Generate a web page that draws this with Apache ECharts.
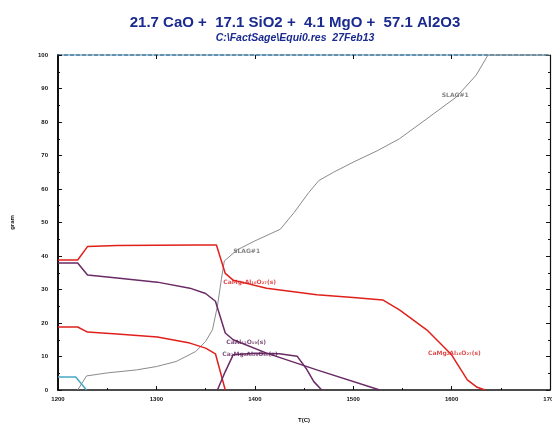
<!DOCTYPE html>
<html>
<head>
<meta charset="utf-8">
<script src="https://cdn.jsdelivr.net/npm/echarts@6/dist/echarts.min.js"></script>
<style>html,body{margin:0;padding:0;background:#fff}#c{width:552px;height:423px}</style>
</head>
<body>
<div id="c"></div>
<script>
// ---- data (T in °C, gram) ----
var slag = [[1220,0],[1229,4.2],[1250,5.1],[1280,6],[1300,7],[1320,8.5],[1340,11.5],[1350,14.5],[1357,18],[1362,25],[1366,33],[1369,38.5],[1382,41.8],[1400,44.5],[1426,48],[1440,53],[1455,59],[1465,62.5],[1480,65],[1500,68],[1525,71.5],[1547,75],[1575,81],[1605,87.5],[1625,94],[1637,100],[1700,100]];
var cm2a8 = [[1200,38.8],[1220,38.8],[1230,42.8],[1260,43.1],[1300,43.2],[1340,43.3],[1361,43.3],[1370,34.8],[1378,32.8],[1412,30.4],[1463,28.4],[1500,27.6],[1530,26.9],[1547,23.9],[1575,17.9],[1600,10.5],[1616,3],[1626,0.8],[1634,0]];
var gehl = [[1200,18.8],[1220,18.8],[1230,17.3],[1260,16.7],[1301,15.8],[1334,14],[1350,12.5],[1360,10.8],[1370,0]];
var ca6 = [[1200,37.9],[1220,37.9],[1230,34.3],[1260,33.4],[1301,32.2],[1334,30.4],[1350,28.8],[1360,26.5],[1370,17],[1378,15],[1412,11],[1463,6],[1527,0]];
var c2m2a14 = [[1362,0],[1370,5.5],[1378,10.5],[1400,11],[1425,10.8],[1443,10.1],[1452,6.5],[1460,2.5],[1468,0]];
var cyan = [[1200,3.9],[1218,3.9],[1229,0]];
var labels = [
  {t:'SLAG#1', p:[1378,41.5], c:'#666'},
  {t:'SLAG#1', p:[1590,88], c:'#666'},
  {t:'CaMg\u2082Al\u2081\u2086O\u2082\u2087(s)', p:[1368,32], c:'#d81c1c'},
  {t:'CaAl\u2081\u2082O\u2081\u2089(s)', p:[1371,14.2], c:'#5a1f55'},
  {t:'Ca\u2082Mg\u2082Al\u2082\u2088O\u2084\u2086(s)', p:[1367,10.6], c:'#5a1f55'},
  {t:'CaMg\u2082Al\u2081\u2086O\u2082\u2087(s)', p:[1576,11], c:'#d81c1c'}
];
var xTicks = [1200,1300,1400,1500,1600,1700];
var yTicks = [0,10,20,30,40,50,60,70,80,90,100];

var chart = echarts.init(document.getElementById('c'));
function line(d, color, w){
  return {type:'line', data:d, showSymbol:false, symbol:'none', lineStyle:{color:color, width:w}, silent:true, z:3, animation:false};
}
var tickFont = {fontSize:6, fontWeight:'bold', color:'#111', fontFamily:'Liberation Sans'};
chart.setOption({
  animation:false,
  title:{
    text:'21.7 CaO +  17.1 SiO2 +  4.1 MgO +  57.1 Al2O3',
    subtext:'C:\\FactSage\\Equi0.res  27Feb13',
    left:290, top:10, textAlign:'center', itemGap:3,
    textStyle:{fontSize:15, fontWeight:'bold', color:'#1a2a8e', fontFamily:'Liberation Sans'},
    subtextStyle:{fontSize:10.5, fontWeight:'bold', fontStyle:'italic', color:'#1a2a8e', fontFamily:'Liberation Sans'}
  },
  grid:{left:58, right:2, top:55, bottom:33, containLabel:false, outerBoundsMode:'none'},
  xAxis:[
    {type:'value', min:1200, max:1700, interval:100, position:'bottom',
     name:'T(C)', nameLocation:'middle', nameGap:27, nameTextStyle:{fontSize:6, fontWeight:'bold', color:'#111'},
     axisLine:{onZero:false, lineStyle:{color:'#111', width:1.5}},
     axisTick:{inside:true, length:4, lineStyle:{color:'#111'}},
     minorTick:{show:true, splitNumber:2, length:2, lineStyle:{color:'#111'}},
     axisLabel:Object.assign({margin:6, formatter:function(v){return xTicks.indexOf(v)>=0?String(v):'';}}, tickFont),
     splitLine:{show:false}},
    {type:'value', min:1200, max:1700, interval:100, position:'top',
     axisLine:{onZero:false, lineStyle:{color:'#2f6f96', width:1.5, type:[4,2]}},
     axisTick:{inside:true, length:4, lineStyle:{color:'#111'}},
     axisLabel:{show:false}, splitLine:{show:false}}
  ],
  yAxis:[
    {type:'value', min:0, max:100, interval:10, position:'left',
     name:'gram', nameLocation:'middle', nameGap:43, nameRotate:90, nameTextStyle:{fontSize:6, fontWeight:'bold', color:'#111'},
     axisLine:{show:true, onZero:false, lineStyle:{color:'#111', width:2}},
     axisTick:{show:true, inside:true, length:4, lineStyle:{color:'#111'}},
     minorTick:{show:true, splitNumber:2, length:2, lineStyle:{color:'#111'}},
     axisLabel:Object.assign({margin:10, formatter:function(v){return yTicks.indexOf(v)>=0?String(v):'';}}, tickFont),
     splitLine:{show:false}},
    {type:'value', min:0, max:100, interval:10, position:'right',
     axisLine:{show:true, onZero:false, lineStyle:{color:'#111', width:1.2}},
     axisTick:{show:true, inside:true, length:4, lineStyle:{color:'#111'}},
     minorTick:{show:true, splitNumber:2, length:2, lineStyle:{color:'#111'}},
     axisLabel:{show:false}, splitLine:{show:false}}
  ],
  series:[
    line(slag, '#8a8a8a', 1),
    line(cm2a8, '#e0201c', 1.5),
    line(gehl, '#e0201c', 1.5),
    line(ca6, '#6a2a66', 1.5),
    line(c2m2a14, '#6a2a66', 1.5),
    line(cyan, '#4aa6c4', 1.5),
    {type:'scatter', symbolSize:0, silent:true, z:5, animation:false,
     data:labels.map(function(l){return {value:l.p, label:{show:true, position:'right', distance:0, formatter:l.t, color:l.c, fontSize:6, fontWeight:'bold', fontFamily:'DejaVu Sans'}};})}
  ]
});
</script>
</body>
</html>
